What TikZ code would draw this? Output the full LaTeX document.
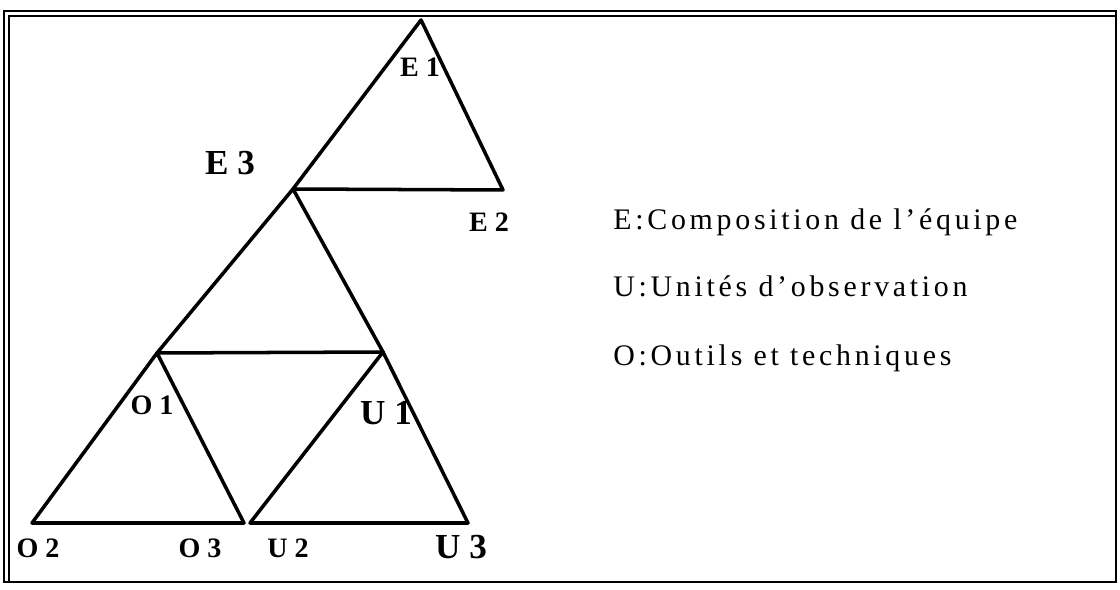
\documentclass[tikz,border=0pt]{standalone}
\usepackage{fontspec}
\setmainfont{Liberation Serif}
\usepackage{tikz}

\begin{document}
\begin{tikzpicture}[
        x=0.02cm, y=-0.02cm,
        % Styles des traits
        cadre/.style={line width=1.1pt},
        cote/.style={line width=2pt, line join=round, line cap=round},
        % Styles des étiquettes
        lab/.style={font=\fontsize{16}{16}\selectfont\bfseries, inner sep=0pt},
        biglab/.style={font=\fontsize{20}{20}\selectfont\bfseries, inner sep=0pt},
        leg/.style={font=\fontsize{17}{17}\selectfont\addfontfeature{LetterSpace=12.5},
                    anchor=base west, inner sep=0pt},
    ]
    \useasboundingbox (0,0) rectangle (1120,590);

    %% ── Cadre double ──
    \draw[cadre] (4,11) rectangle (1116,582);
    \draw[cadre] (9,582) -- (9,16) -- (1116,16);

    %% ── Sommets ──
    \coordinate (e1) at (421,20);
    \coordinate (e3) at (293,189);
    \coordinate (e2) at (503,190);
    \coordinate (o1) at (157,353);
    \coordinate (u1) at (383,352);
    \coordinate (o2) at (32,523);
    \coordinate (o3) at (244,523);
    \coordinate (u2) at (250,523);
    \coordinate (u3) at (468,523);

    %% ── Triangles ──
    \draw[cote] (e1) -- (e3) -- (e2) -- cycle;
    \draw[cote] (e3) -- (o1) -- (u1) -- cycle;
    \draw[cote] (o1) -- (o2) -- (o3) -- cycle;
    \draw[cote] (u1) -- (u2) -- (u3) -- cycle;

    %% ── Étiquettes des sommets ──
    \node[lab]    (le1) at (420,67)  {E 1};
    \node[biglab] (le3) at (230,163) {E 3};
    \node[lab]    (le2) at (489,222) {E 2};
    \node[lab]    (lo1) at (152,405) {O 1};
    \node[biglab] (lu1) at (386,413) {U 1};
    \node[lab]    (lo2) at (38,548)  {O 2};
    \node[lab]    (lo3) at (200,548) {O 3};
    \node[lab]    (lu2) at (288,548) {U 2};
    \node[biglab] (lu3) at (461,547) {U 3};

    %% ── Légende ──
    \node[leg] (lege) at (613,230) {E:Composition de l’équipe};
    \node[leg] (legu) at (613,297) {U:Unités d’observation};
    \node[leg] (lego) at (613,366) {O:Outils et techniques};

\end{tikzpicture}
\end{document}
